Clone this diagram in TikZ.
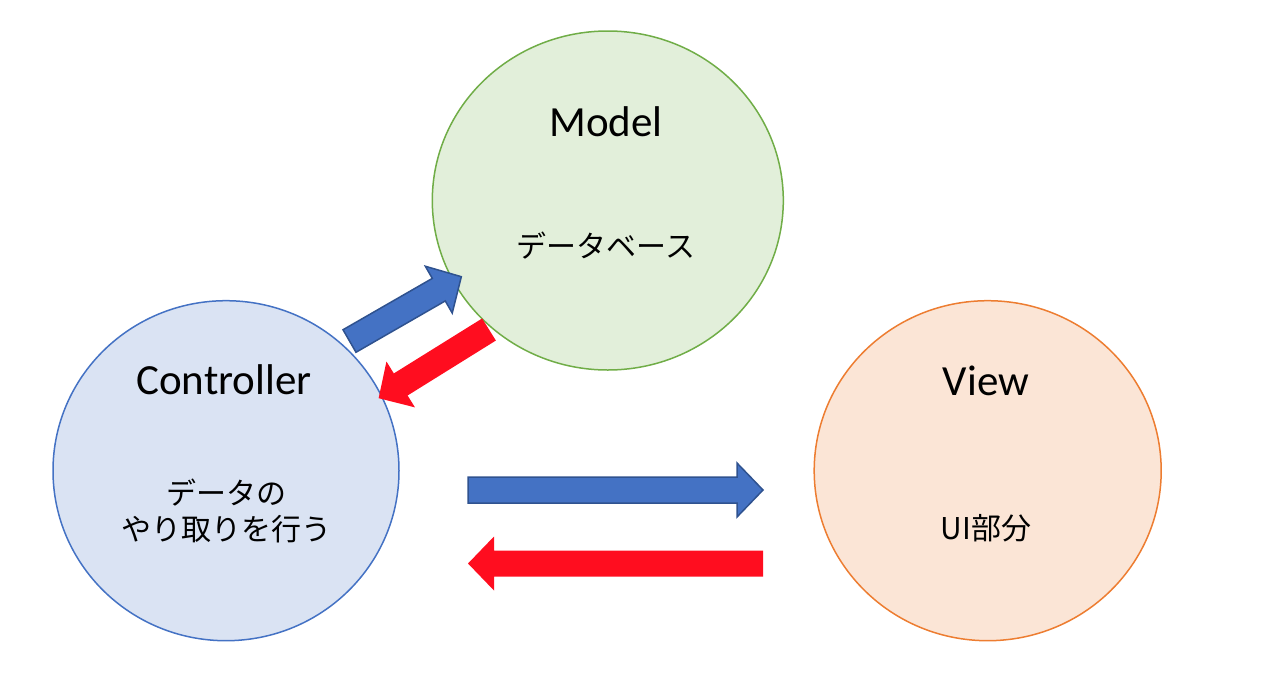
\documentclass[tikz,border=0pt]{standalone}
\usepackage{fontspec}
\setmainfont{Carlito}
\newfontfamily\jpfont{Noto Sans CJK JP}
\usetikzlibrary{shapes.geometric}
\definecolor{modelfill}{HTML}{E2EFDA}
\definecolor{modelline}{HTML}{70AD47}
\definecolor{ctrlfill}{HTML}{DAE3F3}
\definecolor{ctrlline}{HTML}{4472C4}
\definecolor{viewfill}{HTML}{FBE5D6}
\definecolor{viewline}{HTML}{ED7D31}
\definecolor{arrowblue}{HTML}{4472C4}
\definecolor{arrowblueline}{HTML}{2F528F}
\definecolor{arrowred}{HTML}{FF0D1F}
\tikzset{
  part/.style={ellipse, draw, line width=1.5pt, inner sep=0pt},
  title/.style={anchor=base, font=\fontsize{43}{52}\selectfont},
  note/.style={align=center, font=\jpfont\fontsize{30}{36}\selectfont},
  bluearrow/.style={fill=arrowblue, draw=arrowblueline, line width=1.5pt},
  redarrow/.style={fill=arrowred},
  pics/blockarrow/.style={code={
    \path[pic actions] (0,-13) -- (#1-26,-13) -- (#1-26,-27) -- (#1,0)
      -- (#1-26,27) -- (#1-26,13) -- (0,13) -- cycle;
  }},
}
\begin{document}
\begin{tikzpicture}[x=1pt,y=-1pt]
  \useasboundingbox (0,0) rectangle (1288,694);
  % the three parts
  \node [part, fill=modelfill, draw=modelline, minimum width=351pt, minimum height=339pt] (model) at (607.8,200.5) {};
  \node [part, fill=ctrlfill, draw=ctrlline, minimum width=346pt, minimum height=340pt] (controller) at (226,470.7) {};
  \node [part, fill=viewfill, draw=viewline, minimum width=347pt, minimum height=340pt] (view) at (987.7,470.7) {};
  \node [title] (modeltitle) at (606,136) {Model};
  \node [note] (modelnote) at (606,246) {データベース};
  \node [title] (controllertitle) at (224,394) {Controller};
  \node [note] (controllernote) at (226,511) {データの\\やり取りを行う};
  \node [title] (viewtitle) at (986,395) {View};
  \node [note] (viewnote) at (986,528) {UI部分};
  % arrows
  \pic [bluearrow, rotate=29.9] at (349.5,341) {blockarrow=129};
  \pic [redarrow, rotate=211.9] at (489,329.5) {blockarrow=130};
  \pic [bluearrow] at (468,490) {blockarrow=295};
  \pic [redarrow, rotate=180] at (763,563.5) {blockarrow=295};
\end{tikzpicture}
\end{document}
